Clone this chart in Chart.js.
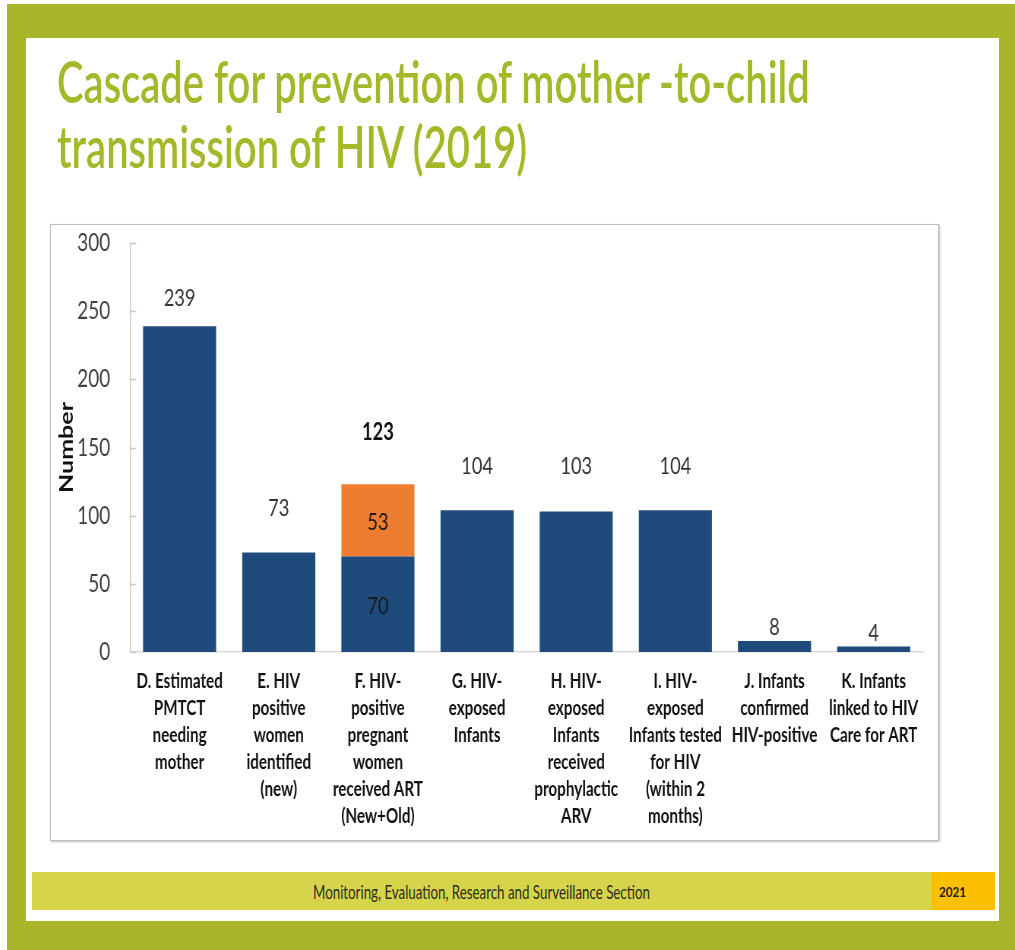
<!DOCTYPE html>
<html><head><meta charset="utf-8">
<script src="https://cdn.jsdelivr.net/npm/chart.js@4.4.1/dist/chart.umd.min.js"></script>
<style>
html,body{margin:0;padding:0;background:#fff;width:1015px;height:950px;overflow:hidden;font-family:Lato,sans-serif}
#frame{position:absolute;left:7px;top:4px;width:1008px;height:946px;background:#a7b62a}
#panel{position:absolute;left:26px;top:38px;width:973px;height:883px;background:#fff}
.fit{position:absolute;white-space:nowrap;transform-origin:0 0;line-height:1;display:inline-block}
#t1,#t2{font-size:58px;color:#a4b82a;left:57px;font-weight:600}
#t1{top:51.6px}
#t2{top:116.6px}
#box{position:absolute;left:50px;top:224px;width:887px;height:615px;border:1px solid #bdbdbd;box-shadow:1px 1px 2px rgba(0,0,0,.25);background:#fff}
#wrap{position:absolute;left:50px;top:202px;width:1170px;height:639px;transform:scaleX(0.76);transform-origin:0 0}
#foot{position:absolute;left:32px;top:872px;width:900px;height:38px;background:#d5d44a}
#year{position:absolute;left:932px;top:872px;width:63px;height:38px;background:#fdc000}
#ft{font-size:19px;color:#2e2e22;top:882px}
#yt{font-size:13px;font-weight:bold;color:#222;top:886px}
</style></head><body>
<div id="frame"></div>
<div id="panel"></div>
<div id="t1" class="fit">Cascade for prevention of mother -to-child</div>
<div id="t2" class="fit">transmission of HIV (2019)</div>
<div id="box"></div>
<div id="wrap"><canvas id="c"></canvas></div>
<div id="foot"></div>
<div id="year"></div>
<div id="ft" class="fit">Monitoring, Evaluation, Research and Surveillance Section</div>
<div id="yt" class="fit">2021</div>
<script>
const categories = [
  ["D. Estimated","PMTCT","needing","mother"],
  ["E. HIV","positive","women","identified","(new)"],
  ["F. HIV-","positive","pregnant","women","received ART","(New+Old)"],
  ["G. HIV-","exposed","Infants"],
  ["H. HIV-","exposed","Infants","received","prophylactic","ARV"],
  ["I. HIV-","exposed","Infants tested","for HIV","(within 2","months)"],
  ["J. Infants","confirmed","HIV-positive"],
  ["K. Infants","linked to HIV","Care for ART"]
];
const baseValues = [239, 73, 70, 104, 103, 104, 8, 4];
const addedValues = [0, 0, 53, 0, 0, 0, 0, 0];
const yTickStep = 50;
const yMax = 300;
const yTitle = "Number";

// style: vertical gap (px) between bar top and its value label
const labelGap = [28, 44, 52, 44, 45, 44, 14, 13];

function fitW(id, w){const e=document.getElementById(id);const s=w/e.offsetWidth;e.style.transform='scaleX('+s+')';return s;}
function fitCenter(id, w, cx){const e=document.getElementById(id);const s=w/e.offsetWidth;e.style.left=(cx-w/2)+'px';e.style.transform='scaleX('+s+')';}
const ts = fitW('t1', 753);
document.getElementById('t2').style.transform='scaleX('+ts+')';
fitCenter('ft', 337, 481.5);
fitCenter('yt', 27, 952.5);

const valuePlugin = {
  id:'vals',
  afterDatasetsDraw(chart){
    const ctx=chart.ctx, y=chart.scales.y, m0=chart.getDatasetMeta(0);
    ctx.save();
    ctx.textAlign='center'; ctx.textBaseline='middle';
    baseValues.forEach((v,i)=>{
      const a=addedValues[i]||0, x=m0.data[i].x, total=v+a;
      const topY=y.getPixelForValue(total);
      if(a>0){
        ctx.font='bold 24px Lato'; ctx.fillStyle='#111';
        ctx.fillText(String(total), x, topY-labelGap[i]);
        ctx.font='24px Lato'; ctx.fillStyle='#1a1a1a';
        ctx.fillText(String(a), x, (y.getPixelForValue(v)+topY)/2+2);
        ctx.fillText(String(v), x, (y.getPixelForValue(0)+y.getPixelForValue(v))/2+2);
      } else {
        ctx.font='24px Lato'; ctx.fillStyle='#333';
        ctx.fillText(String(v), x, topY-labelGap[i]);
      }
    });
    // inside tick marks on the value axis
    ctx.strokeStyle='#c8c8c8'; ctx.lineWidth=1.5;
    y.ticks.forEach(t=>{
      const py=Math.round(y.getPixelForValue(t.value))+0.5;
      ctx.beginPath(); ctx.moveTo(y.right, py); ctx.lineTo(y.right+8, py); ctx.stroke();
    });
    ctx.restore();
  }
};

new Chart(document.getElementById('c'), {
  type:'bar',
  data:{
    labels:categories,
    datasets:[
      {data:baseValues, backgroundColor:'#1f4a7c', barPercentage:0.737, categoryPercentage:1},
      {data:addedValues, backgroundColor:'#ed7d31', barPercentage:0.737, categoryPercentage:1}
    ]
  },
  options:{
    responsive:true, maintainAspectRatio:false, animation:false,
    layout:{padding:{top:18.7,right:21,left:0,bottom:0}},
    plugins:{legend:{display:false},tooltip:{enabled:false}},
    scales:{
      x:{stacked:true, grid:{display:false,drawTicks:false}, border:{color:'#d9d9d9',width:1.5},
         ticks:{font:{family:'Lato',size:20,weight:'bold',lineHeight:1.35},color:'#111',padding:16,maxRotation:0,minRotation:0,autoSkip:false},
         afterFit(s){s.height=189;}},
      y:{stacked:true, min:0, max:yMax, grid:{display:false,drawTicks:false}, border:{color:'#c8c8c8',width:1.5},
         ticks:{stepSize:yTickStep, font:{family:'Lato',size:25}, color:'#404040', padding:26},
         title:{display:true, text:yTitle, font:{family:'Lato',size:25,weight:'bold'}, color:'#111', padding:{top:7,bottom:0}},
         afterFit(s){s.width=105.3;}}
    }
  },
  plugins:[valuePlugin]
});
</script>
</body></html>
